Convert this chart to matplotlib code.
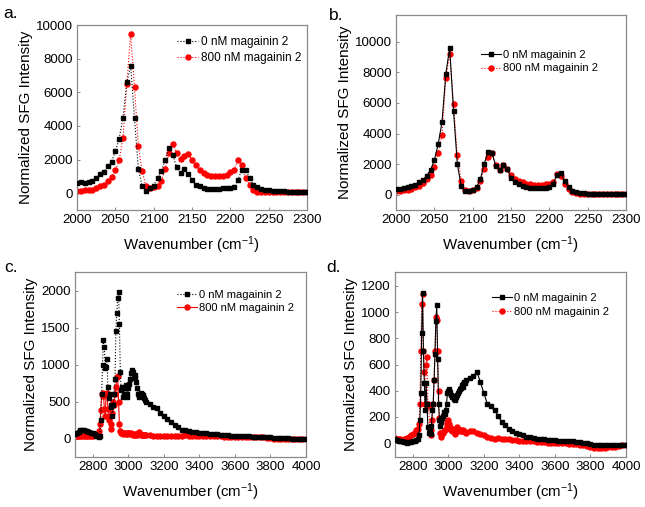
import numpy as np
import matplotlib
matplotlib.use("Agg")
import matplotlib.pyplot as plt

plt.rcParams['font.family'] = ['Liberation Sans', 'DejaVu Sans']
plt.rcParams['mathtext.default'] = 'regular'

# ---------------- data ----------------
labels = ["0 nM magainin 2", "800 nM magainin 2"]

# panels a, b : 2000-2300 cm-1, step 5
wn_ab = np.arange(2000, 2301, 5)

a_0nM = [600, 650, 600, 650, 750, 900, 1150, 1250, 1600, 1850,
         2500, 3250, 4500, 6600, 7550, 4450, 1450, 400, 150, 300,
         450, 900, 1300, 2000, 2700, 2250, 1550, 1200, 1450, 1150,
         800, 500, 400, 300, 250, 250, 250, 250, 280, 300,
         300, 350, 800, 1400, 1400, 900, 500, 350, 250, 200,
         180, 150, 150, 130, 120, 100, 100, 100, 100, 100,
         100]
a_800nM = [150, 150, 200, 200, 200, 300, 400, 500, 700, 950,
           1350, 1950, 3300, 6500, 9450, 6300, 2800, 1300, 400, 300,
           350, 400, 700, 1450, 2400, 2900, 2400, 2050, 2200, 2350,
           2000, 1650, 1350, 1200, 1100, 1050, 1050, 1050, 1050, 1100,
           1250, 1400, 1950, 1700, 900, 500, 200, 100, 50, 50,
           50, 50, 50, 50, 50, 50, 50, 50, 50, 50,
           50]

b_0nM = [350, 400, 450, 500, 550, 650, 800, 950, 1250, 1600,
         2250, 3300, 4750, 7900, 9600, 5500, 2000, 600, 250, 250,
         300, 500, 1000, 2000, 2800, 2750, 1900, 1600, 1950, 1700,
         1100, 850, 700, 600, 500, 450, 450, 450, 450, 450,
         500, 700, 1300, 1450, 900, 500, 250, 150, 100, 80,
         60, 50, 40, 30, 30, 30, 30, 30, 30, 30,
         30]
b_800nM = [250, 270, 300, 330, 400, 500, 600, 750, 1000, 1300,
           1800, 2700, 3900, 7600, 9200, 5950, 2600, 900, 300, 250,
           300, 450, 900, 1700, 2450, 2700, 1950, 1600, 1950, 1700,
           1300, 1050, 900, 800, 700, 700, 650, 650, 650, 700,
           700, 850, 1350, 1250, 700, 350, 150, 80, 50, 40,
           30, 30, 30, 30, 30, 30, 30, 30, 30, 30,
           30]

# panels c, d : 2700-4000 cm-1 (10 / 5 / 20 cm-1 sampling)
wn_cd = np.concatenate([np.arange(2700, 2831, 10),
                        np.arange(2835, 3101, 5),
                        np.arange(3120, 4001, 20)])

c_0nM = ([60, 70, 90, 110, 120, 110, 100, 100, 90, 80, 70, 60, 40, 30] +
         [20, 40, 250, 600, 1000, 1330, 1230, 950, 960, 1080,
          700, 550, 600, 450, 430, 300, 450, 600, 800, 1450,
          1700, 1900, 1980, 1550, 900, 650, 700, 560, 600, 680,
          720, 600, 560, 680, 740, 800, 880, 930, 900, 850,
          860, 820, 760, 680, 600, 560, 600, 620, 600, 570,
          590, 550, 520, 500] +
         [460, 430, 410, 340, 300, 260, 220, 180, 150, 120,
          110, 100, 90, 85, 80, 75, 70, 65, 60, 55,
          50, 45, 45, 40, 40, 35, 35, 30, 30, 25,
          25, 20, 20, 15, 15, 10, 10, 5, 5, 5,
          0, 0, 0, 0, 0])
c_800nM = ([30, 30, 35, 30, 30, 35, 30, 30, 35, 40, 40, 45, 50, 60] +
           [100, 200, 380, 600, 580, 610, 400, 300, 600, 620,
            400, 250, 300, 130, 200, 350, 500, 450, 600, 700,
            830, 850, 500, 200, 100, 80, 70, 60, 80, 70,
            60, 70, 60, 80, 70, 60, 70, 60, 50, 60,
            50, 50, 60, 50, 70, 90, 60, 50, 50, 50,
            50, 45, 45, 45] +
           [45, 40, 40, 40, 35, 40, 35, 40, 35, 40,
            45, 40, 40, 35, 35, 30, 30, 30, 30, 30,
            30, 25, 25, 25, 25, 25, 20, 20, 20, 20,
            15, 15, 15, 10, 5, 0, -5, -5, -5, -5,
            -5, -5, -10, -10, -10])

d_0nM = ([30, 25, 20, 15, 15, 10, 10, 5, 10, 10, 15, 20, 25, 30] +
         [60, 180, 380, 840, 1145, 700, 460, 250, 460, 300,
          120, 80, 110, 70, 130, 250, 300, 480, 680, 930,
          1050, 640, 300, 180, 130, 160, 190, 210, 240, 220,
          250, 300, 380, 400, 410, 390, 370, 350, 360, 340,
          330, 340, 350, 370, 380, 400, 410, 420, 440, 430,
          450, 470, 460, 480] +
         [500, 510, 545, 470, 380, 300, 280, 250, 210, 160,
          140, 110, 90, 80, 70, 60, 50, 45, 40, 35,
          30, 30, 25, 25, 25, 20, 20, 20, 15, 15,
          10, 10, 5, 0, -5, -10, -15, -15, -15, -15,
          -10, -10, -10, -10, -10])
d_800nM = ([40, 35, 30, 30, 25, 30, 35, 40, 50, 60, 70, 80, 100, 110] +
           [150, 300, 700, 1060, 1140, 700, 540, 300, 600, 660,
            300, 280, 100, 60, 100, 180, 300, 480, 700, 960,
            940, 700, 400, 190, 80, 50, 70, 80, 90, 100,
            110, 140, 160, 175, 150, 120, 100, 90, 110, 100,
            70, 80, 90, 120, 110, 100, 90, 100, 95, 100,
            90, 95, 85, 80] +
           [90, 95, 80, 70, 60, 50, 40, 35, 40, 35,
            30, 30, 25, 25, 20, 20, 15, 15, 15, 10,
            10, 10, 5, 5, 5, 0, 0, 0, -5, -5,
            -5, -10, -15, -20, -25, -35, -40, -40, -35, -30,
            -25, -25, -20, -15, -15])

# ---------------- figure ----------------
W, H = 645, 507
fig = plt.figure(figsize=(W / 100, H / 100), dpi=100)

def frac(l, r, t, b):
    return [l / W, 1 - b / H, (r - l) / W, (b - t) / H]

panels = [
    dict(rect=frac(77, 307, 25, 210), x=wn_ab, y0=a_0nM, y1=a_800nM,
         xlim=(2000, 2300), ylim=(-1000, 10000), xt=np.arange(2000, 2301, 50),
         yt=np.arange(0, 10001, 2000), tag="a.", tagxy=(3, 18),
         leg=(0.435, 0.94), lfs=8.5, ls0=':', ls1=':'),
    dict(rect=frac(396, 626, 15, 210), x=wn_ab, y0=b_0nM, y1=b_800nM,
         xlim=(2000, 2300), ylim=(-1000, 11750), xt=np.arange(2000, 2301, 50),
         yt=np.arange(0, 10001, 2000), tag="b.", tagxy=(329, 20),
         leg=(0.37, 0.82), lfs=8, ls0='-', ls1=':'),
    dict(rect=frac(75, 306, 272, 457), x=wn_cd, y0=c_0nM, y1=c_800nM,
         xlim=(2700, 4000), ylim=(-250, 2250), xt=np.arange(2800, 4001, 200),
         yt=np.arange(0, 2001, 500), tag="c.", tagxy=(4, 272),
         leg=(0.44, 0.905), lfs=8, ls0=':', ls1='-'),
    dict(rect=frac(395, 626, 272, 457), x=wn_cd, y0=d_0nM, y1=d_800nM,
         xlim=(2700, 4000), ylim=(-105, 1305), xt=np.arange(2800, 4001, 200),
         yt=np.arange(0, 1201, 200), tag="d.", tagxy=(326, 272),
         leg=(0.42, 0.885), lfs=8, ls0='-', ls1=':'),
]

for p in panels:
    ax = fig.add_axes(p['rect'])
    ax.plot(p['x'], p['y0'], color='black', marker='s', ms=3.4, lw=0.8,
            ls=p['ls0'], label=labels[0], zorder=3)
    ax.plot(p['x'], p['y1'], color='#ff0000', marker='o', ms=3.6, lw=0.8,
            ls=p['ls1'], label=labels[1], zorder=2)
    ax.set_xlim(*p['xlim'])
    ax.set_ylim(*p['ylim'])
    ax.set_xticks(p['xt'])
    ax.set_yticks(p['yt'])
    ax.tick_params(direction='in', length=2.5, width=0.6, labelsize=9.5,
                   color='#777777', pad=3)
    for s in ax.spines.values():
        s.set_color('#8a8a8a')
        s.set_linewidth(0.9)
    ax.set_xlabel('Wavenumber (cm$^{-1}$)', fontsize=10.8, labelpad=6)
    ax.set_ylabel('Normalized SFG Intensity', fontsize=11, labelpad=2)
    ax.legend(loc='upper left', bbox_to_anchor=p['leg'], frameon=False,
              fontsize=p['lfs'], handlelength=1.8, handletextpad=0.2,
              borderpad=0, borderaxespad=0, labelspacing=0.3)
    fig.text(p['tagxy'][0] / W, 1 - p['tagxy'][1] / H, p['tag'],
             fontsize=12.5, ha='left', va='baseline')

fig.savefig('out.png', dpi=100)
